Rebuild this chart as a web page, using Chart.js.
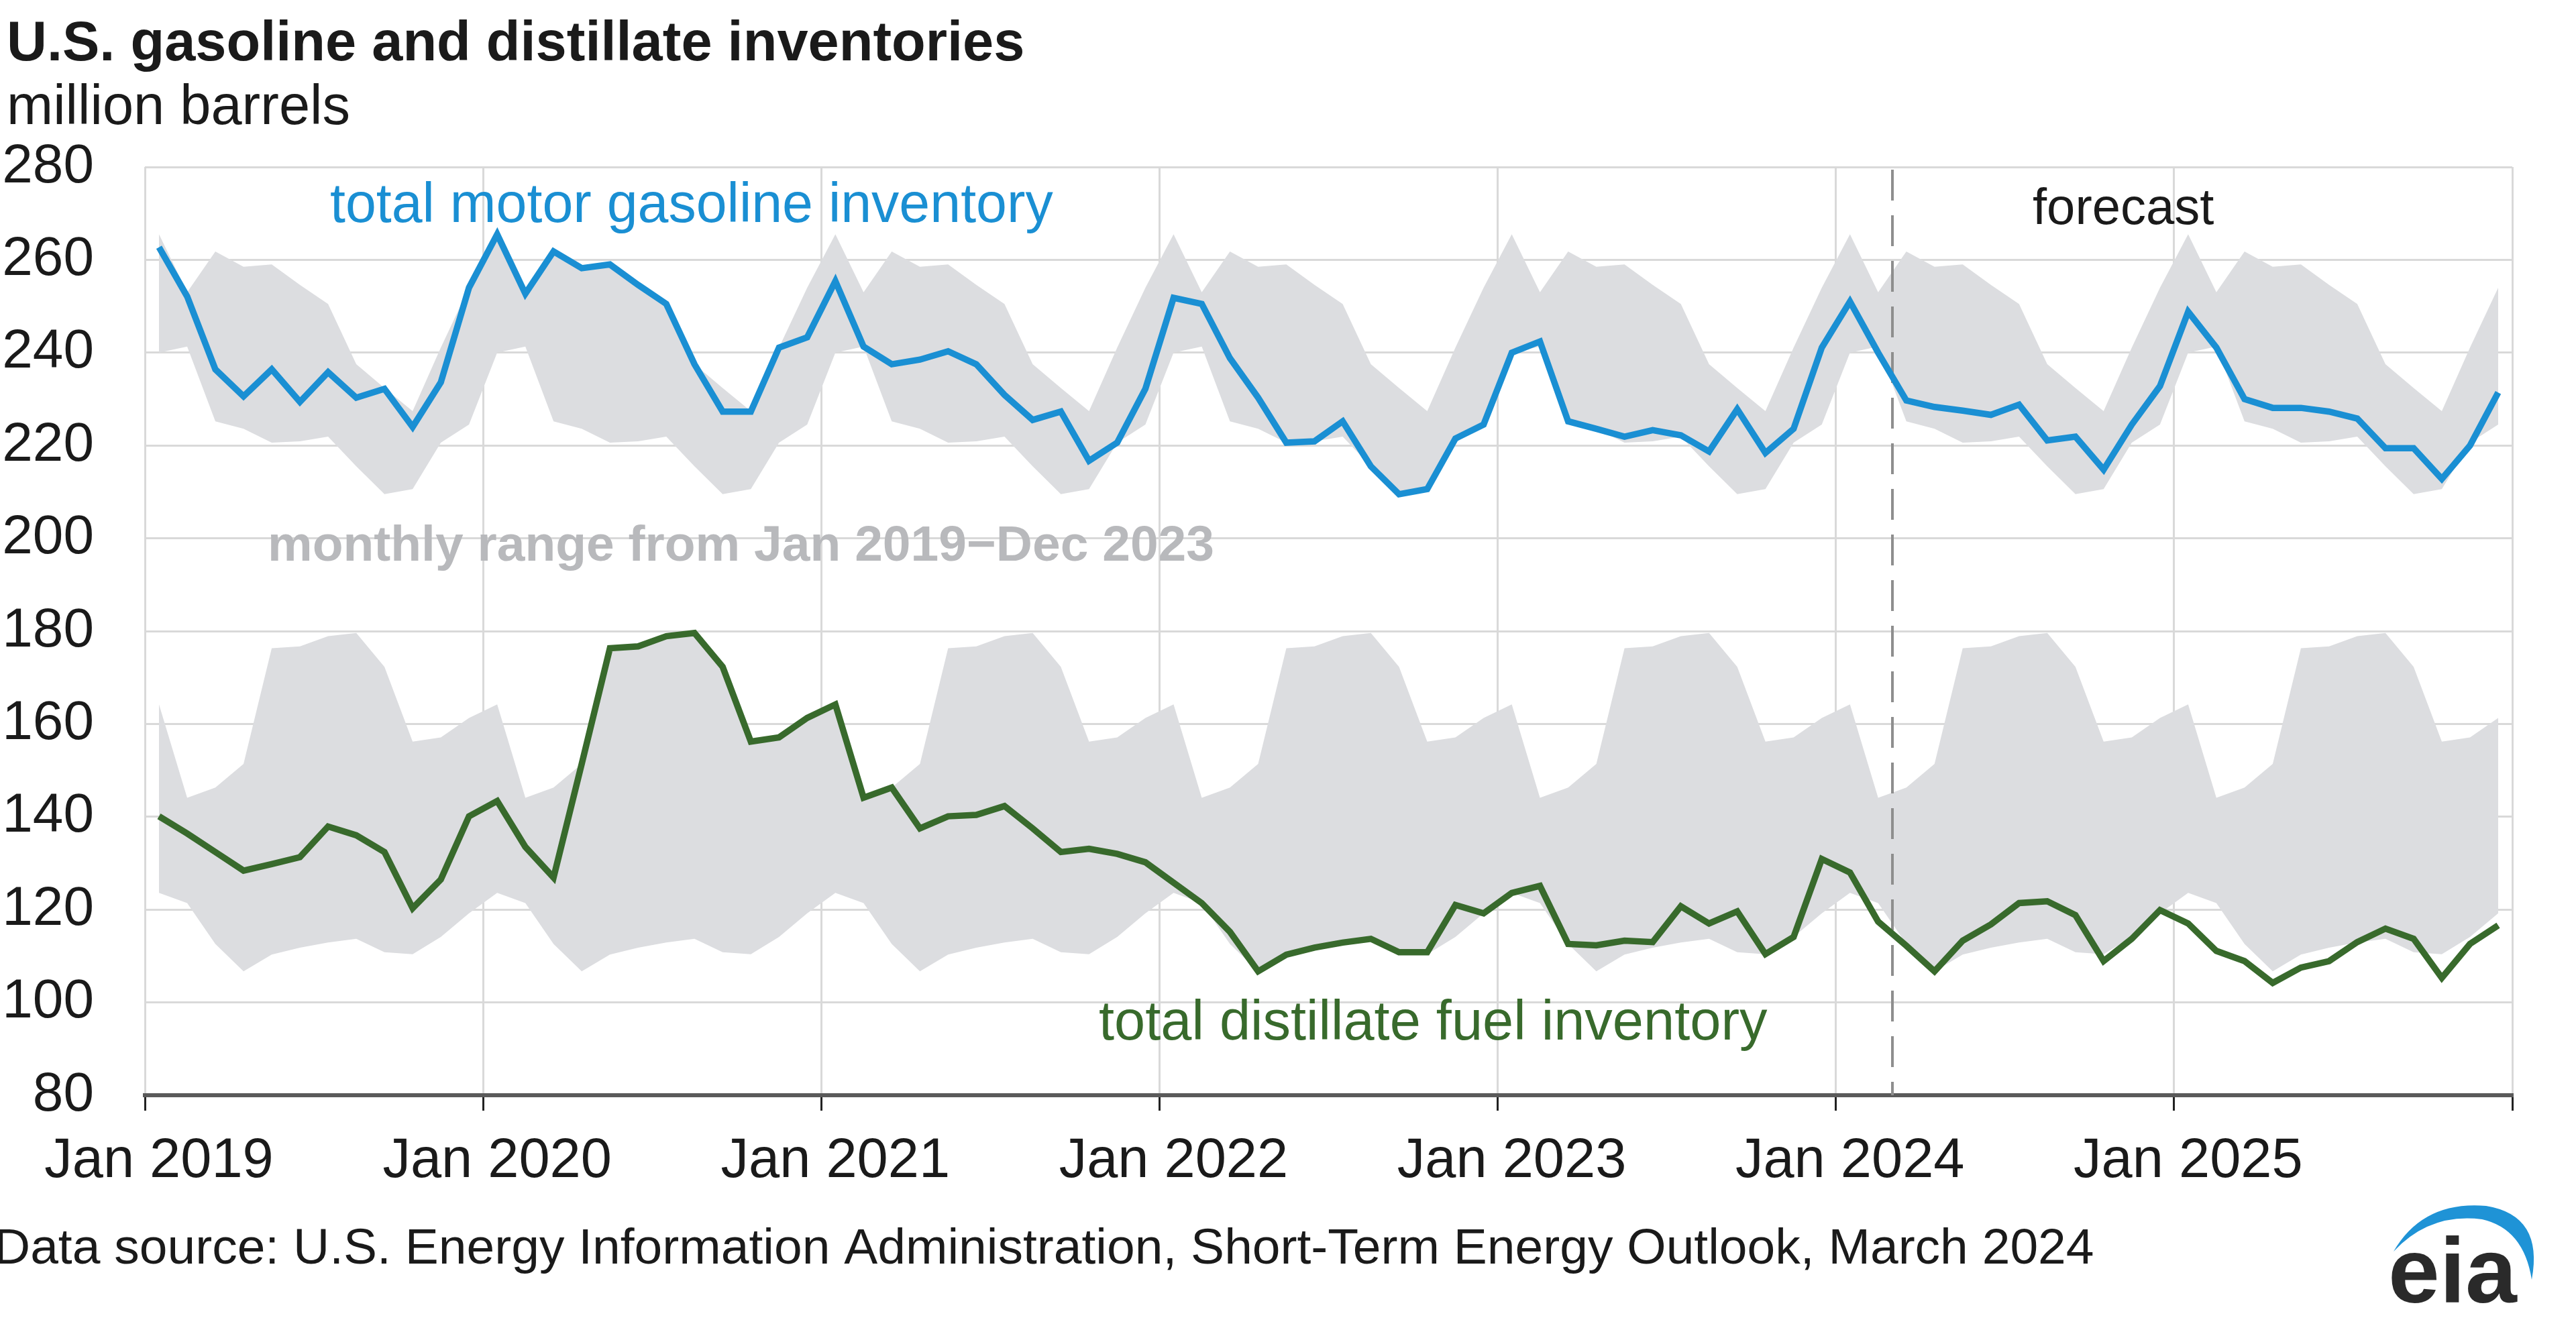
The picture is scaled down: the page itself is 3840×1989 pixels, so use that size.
<!DOCTYPE html>
<html><head><meta charset="utf-8">
<script src="https://cdn.jsdelivr.net/npm/chart.js@4.4.1/dist/chart.umd.min.js"></script>
<style>html,body{margin:0;padding:0;background:#fff;overflow:hidden}canvas{display:block}</style>
</head><body>
<canvas id="c" width="3840" height="1989" style="width:3840px;height:1989px"></canvas>
<script>
// ---- data (million barrels), monthly Jan 2019 – Dec 2025 ----
const xTickLabels = ['Jan 2019','Jan 2020','Jan 2021','Jan 2022','Jan 2023','Jan 2024','Jan 2025'];
const forecastStartMonth = 62; // Mar 2024 (months since Jan 2019)

const gasoline = [
  262.7, 252.1, 236.4, 230.6, 236.4, 229.4, 235.8, 230.3, 232.2, 224.0, 233.6, 254.0,
  265.5, 252.7, 261.8, 258.2, 259.0, 254.6, 250.5, 237.5, 227.3, 227.3, 241.1, 243.3,
  255.4, 241.3, 237.5, 238.5, 240.3, 237.5, 230.9, 225.5, 227.3, 216.7, 220.6, 232.2,
  251.8, 250.5, 238.8, 230.3, 220.6, 220.9, 225.2, 215.5, 209.5, 210.6, 221.5, 224.5,
  240.0, 242.4, 225.2, 223.6, 221.9, 223.3, 222.2, 218.7, 227.8, 218.4, 223.6, 241.1,
  251.0, 240.0, 229.7, 228.3, 227.5, 226.6, 228.8, 221.1, 221.9, 214.8, 224.5, 232.8,
  248.8, 241.1, 230.0, 228.1, 228.1, 227.3, 225.8, 219.4, 219.4, 212.8, 220.0, 231.4
];
const distillate = [
  140.1, 136.4, 132.4, 128.4, 129.8, 131.3, 137.9, 136.0, 132.4, 120.3, 126.5, 140.1,
  143.4, 133.5, 126.9, 151.4, 176.3, 176.7, 178.9, 179.6, 172.3, 156.2, 157.1, 161.3,
  164.2, 144.1, 146.3, 137.5, 140.1, 140.4, 142.3, 137.5, 132.4, 133.1, 132.0, 130.2,
  125.8, 121.4, 115.2, 106.7, 110.3, 111.8, 112.9, 113.7, 110.8, 110.8, 121.0, 119.2,
  123.6, 125.1, 112.6, 112.3, 113.3, 113.0, 120.7, 117.0, 119.6, 110.4, 114.1, 130.9,
  128.0, 117.4, 112.2, 106.7, 113.3, 116.8, 121.4, 121.8, 118.8, 108.9, 113.7, 119.9,
  117.0, 111.1, 108.9, 104.2, 107.5, 108.9, 113.0, 115.9, 113.7, 105.3, 112.6, 116.6
];
// monthly range Jan 2019–Dec 2023 (Jan..Dec), shown for every year
const gasRangeMax  = [265.5, 253.0, 261.8, 258.5, 259.0, 254.6, 250.5, 237.5, 232.4, 227.4, 241.1, 254.0];
const gasRangeMin  = [240.0, 241.3, 225.2, 223.6, 220.6, 220.9, 221.9, 215.5, 209.5, 210.6, 220.6, 224.5];
const distRangeMax = [164.2, 144.1, 146.3, 151.4, 176.3, 176.7, 178.9, 179.6, 172.3, 156.2, 157.1, 161.3];
const distRangeMin = [123.6, 121.4, 112.6, 106.7, 110.3, 111.8, 112.9, 113.7, 110.8, 110.4, 114.1, 119.2];

// ---- build library structures ----
const nMonths = gasoline.length;
const pts = arr => arr.map((v, i) => ({x: i + 0.5, y: v}));
const band = monthly => pts(Array.from({length: nMonths}, (_, i) => monthly[i % 12]));

const FONT = '"Liberation Sans", Arial, Helvetica, sans-serif';
Chart.defaults.font.family = FONT;
const BLUE = '#1a8fd3', GREEN = '#386a2c', BAND = '#dcdde0';

const textPlugin = {
  id: 'texts',
  beforeDatasetDraw(chart, args) {
    if (args.index !== 1) return;
    const {ctx, chartArea, scales} = chart;
    const x = Math.round(scales.x.getPixelForValue(forecastStartMonth));
    ctx.save();
    ctx.strokeStyle = '#8e8e8e';
    ctx.lineWidth = 4;
    ctx.setLineDash([46, 22]);
    ctx.beginPath();
    ctx.moveTo(x, chartArea.top + 4);
    ctx.lineTo(x, chartArea.bottom);
    ctx.stroke();
    ctx.restore();
  },
  afterDraw(chart) {
    const ctx = chart.ctx;
    ctx.save();
    ctx.textBaseline = 'alphabetic';
    ctx.textAlign = 'left';
    ctx.fillStyle = '#1a1a1a';
    ctx.font = 'bold 83px ' + FONT;
    ctx.fillText('U.S. gasoline and distillate inventories', 10, 90);
    ctx.font = '83px ' + FONT;
    ctx.fillText('million barrels', 10, 185);

    ctx.fillStyle = BLUE;
    ctx.font = '82.5px ' + FONT;
    ctx.fillText('total motor gasoline inventory', 492, 331);

    ctx.fillStyle = '#1a1a1a';
    ctx.font = '76px ' + FONT;
    ctx.fillText('forecast', 3030, 334);

    ctx.fillStyle = '#b8b9bc';
    ctx.font = 'bold 75px ' + FONT;
    ctx.fillText('monthly range from Jan 2019\u2212Dec 2023', 399, 836);

    ctx.fillStyle = GREEN;
    ctx.font = '83px ' + FONT;
    ctx.fillText('total distillate fuel inventory', 1638, 1550);

    ctx.fillStyle = '#1a1a1a';
    ctx.font = '75px ' + FONT;
    ctx.fillText('Data source: U.S. Energy Information Administration, Short-Term Energy Outlook, March 2024', -9, 1884);

    // eia logo
    ctx.fillStyle = '#1f93d6';
    ctx.beginPath();
    ctx.moveTo(3568, 1866);
    ctx.quadraticCurveTo(3612, 1790, 3706, 1798);
    ctx.quadraticCurveTo(3792, 1812, 3774, 1908);
    ctx.quadraticCurveTo(3762, 1832, 3700, 1818);
    ctx.quadraticCurveTo(3622, 1808, 3568, 1866);
    ctx.fill();
    ctx.fillStyle = '#2a2a2a';
    ctx.font = 'bold 138px ' + FONT;
    ctx.fillText('eia', 3560, 1942);
    ctx.restore();
  }
};

new Chart(document.getElementById('c'), {
  type: 'line',
  data: {
    datasets: [
      {data: pts(gasoline), borderColor: BLUE, borderWidth: 9.5, pointRadius: 0, tension: 0, fill: false, borderJoinStyle: 'miter'},
      {data: pts(distillate), borderColor: GREEN, borderWidth: 9.5, pointRadius: 0, tension: 0, fill: false, borderJoinStyle: 'miter'},
      {data: band(gasRangeMax), borderWidth: 0, pointRadius: 0, tension: 0, fill: '+1', backgroundColor: BAND},
      {data: band(gasRangeMin), borderWidth: 0, pointRadius: 0, tension: 0, fill: false},
      {data: band(distRangeMax), borderWidth: 0, pointRadius: 0, tension: 0, fill: '+1', backgroundColor: BAND},
      {data: band(distRangeMin), borderWidth: 0, pointRadius: 0, tension: 0, fill: false}
    ]
  },
  options: {
    responsive: false,
    animation: false,
    devicePixelRatio: 1,
    events: [],
    layout: {padding: {left: 0, right: 95, top: 249, bottom: 0}},
    plugins: {legend: {display: false}, tooltip: {enabled: false}, title: {display: false}},
    scales: {
      x: {
        type: 'linear', min: 0, max: 84,
        afterFit(s) { s.height = 356; },
        grid: {color: '#d9d9d9', lineWidth: 3, drawTicks: true, tickLength: 23, tickColor: '#222', tickWidth: 3},
        border: {color: '#5a5a5a', width: 6},
        ticks: {
          stepSize: 12, autoSkip: false, maxRotation: 0, padding: 26, labelOffset: 21,
          color: '#1a1a1a', font: {size: 83},
          callback: v => xTickLabels[v / 12] ?? ''
        }
      },
      y: {
        min: 80, max: 280,
        afterFit(s) { s.width = 216; },
        grid: {color: '#d9d9d9', lineWidth: 3, drawTicks: false},
        border: {display: false},
        ticks: {stepSize: 20, padding: 76, color: '#1a1a1a', font: {size: 82}}
      }
    }
  },
  plugins: [textPlugin]
});
</script>
</body></html>
